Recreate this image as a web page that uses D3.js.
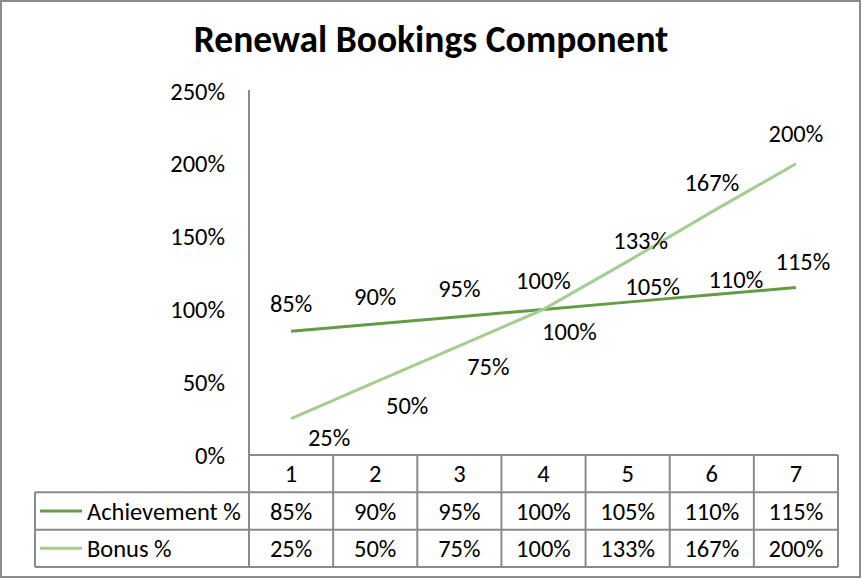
<!DOCTYPE html>
<html>
<head>
  <meta charset="utf-8">
  <script src="https://d3js.org/d3.v7.min.js"></script>
  <style>
    body { margin:0; background:#fff; }
    text { font-family: Carlito, Calibri, Lato, sans-serif; fill:#000; }
  </style>
</head>
<body>
  <div id="container"></div>
  <script>
    var w = 862, h = 579;

    // data
    var categories = ["1", "2", "3", "4", "5", "6", "7"];
    var achievement = [0.85, 0.90, 0.95, 1.00, 1.05, 1.10, 1.15];
    var bonus = [0.25, 0.50, 0.75, 1.00, 1.33, 1.67, 2.00];
    var seriesNames = ["Achievement %", "Bonus %"];
    var yTicks = [0, 0.5, 1, 1.5, 2, 2.5];

    // manual label nudges (dx, dy) like in the original workbook
    var achNudge = [[0,-28],[0,-28],[0,-28],[0,-29],[25,-16],[24,-15],[7,-26]];
    var bonusNudge = [[38,19],[32,23],[29,21],[26,22],[13,-21],[0,-29],[0,-30]];

    var colors = ["#659b45", "#a5cd8f"];
    var grid = "#8a8a8a";
    var fs = "24.5px";

    var svg = d3.select("#container").append("svg")
      .attr("width", w).attr("height", h);

    // outer frame
    svg.append("rect")
      .attr("x", 1).attr("y", 1).attr("width", w - 3).attr("height", h - 3)
      .attr("fill", "#fff").attr("stroke", "#8c8c8c").attr("stroke-width", 2);

    svg.append("text")
      .attr("x", 431).attr("y", 52)
      .attr("text-anchor", "middle")
      .style("font-size", "37.5px").style("font-weight", "bold")
      .text("Renewal Bookings Component");

    var x = d3.scaleBand().domain(categories).range([249, 838]);
    var y = d3.scaleLinear().domain([0, 2.5]).range([455, 91]);
    var rowY = d3.scaleBand().domain(["head"].concat(seriesNames)).range([455, 567]);

    // y axis
    svg.append("line")
      .attr("x1", 249).attr("x2", 249).attr("y1", 90).attr("y2", 567)
      .attr("stroke", grid).attr("stroke-width", 2);

    svg.selectAll(".ytick").data(yTicks).enter().append("text")
      .attr("class", "ytick")
      .attr("x", 225).attr("y", function(d){ return y(d); })
      .attr("dy", "0.35em")
      .attr("text-anchor", "end")
      .style("font-size", fs)
      .text(d3.format(".0%"));

    // lines
    var line = d3.line()
      .x(function(d, i){ return x(categories[i]) + x.bandwidth() / 2; })
      .y(function(d){ return y(d); });

    [achievement, bonus].forEach(function(s, k) {
      svg.append("path")
        .datum(s)
        .attr("d", line)
        .attr("fill", "none")
        .attr("stroke", colors[k])
        .attr("stroke-width", 3);
    });

    // data labels
    [[achievement, achNudge], [bonus, bonusNudge]].forEach(function(p) {
      svg.append("g").selectAll("text").data(p[0]).enter().append("text")
        .attr("x", function(d, i){ return x(categories[i]) + x.bandwidth() / 2 + p[1][i][0]; })
        .attr("y", function(d, i){ return y(d) + p[1][i][1]; })
        .attr("dy", "0.35em")
        .attr("text-anchor", "middle")
        .style("font-size", fs)
        .text(d3.format(".0%"));
    });

    // data table
    var tbl = svg.append("g");
    var right = x.range()[1];
    // horizontal lines
    tbl.append("line").attr("x1", 249).attr("x2", right)
      .attr("y1", rowY("head")).attr("y2", rowY("head"));
    seriesNames.forEach(function(n) {
      tbl.append("line").attr("x1", 35).attr("x2", right)
        .attr("y1", rowY(n)).attr("y2", rowY(n));
    });
    tbl.append("line").attr("x1", 35).attr("x2", right)
      .attr("y1", rowY.range()[1]).attr("y2", rowY.range()[1]);
    // vertical lines
    tbl.append("line").attr("x1", 35).attr("x2", 35)
      .attr("y1", rowY(seriesNames[0])).attr("y2", rowY.range()[1]);
    categories.forEach(function(c) {
      tbl.append("line").attr("x1", x(c) + x.bandwidth()).attr("x2", x(c) + x.bandwidth())
        .attr("y1", rowY("head")).attr("y2", rowY.range()[1]);
    });
    tbl.selectAll("line").attr("stroke", grid).attr("stroke-width", 2);

    // header numbers
    tbl.selectAll(".hd").data(categories).enter().append("text")
      .attr("class", "hd")
      .attr("x", function(d){ return x(d) + x.bandwidth() / 2; })
      .attr("y", rowY("head") + rowY.bandwidth() / 2)
      .attr("dy", "0.35em").attr("text-anchor", "middle")
      .style("font-size", fs)
      .text(function(d){ return d; });

    [achievement, bonus].forEach(function(s, k) {
      var cy = rowY(seriesNames[k]) + rowY.bandwidth() / 2;
      tbl.append("line")
        .attr("x1", 40).attr("x2", 82).attr("y1", cy).attr("y2", cy)
        .attr("stroke", colors[k]).attr("stroke-width", 3);
      tbl.append("text")
        .attr("x", 87).attr("y", cy).attr("dy", "0.35em")
        .style("font-size", fs)
        .text(seriesNames[k]);
      tbl.append("g").selectAll("text").data(s).enter().append("text")
        .attr("x", function(d, i){ return x(categories[i]) + x.bandwidth() / 2; })
        .attr("y", cy).attr("dy", "0.35em").attr("text-anchor", "middle")
        .style("font-size", fs)
        .text(d3.format(".0%"));
    });
  </script>
</body>
</html>
